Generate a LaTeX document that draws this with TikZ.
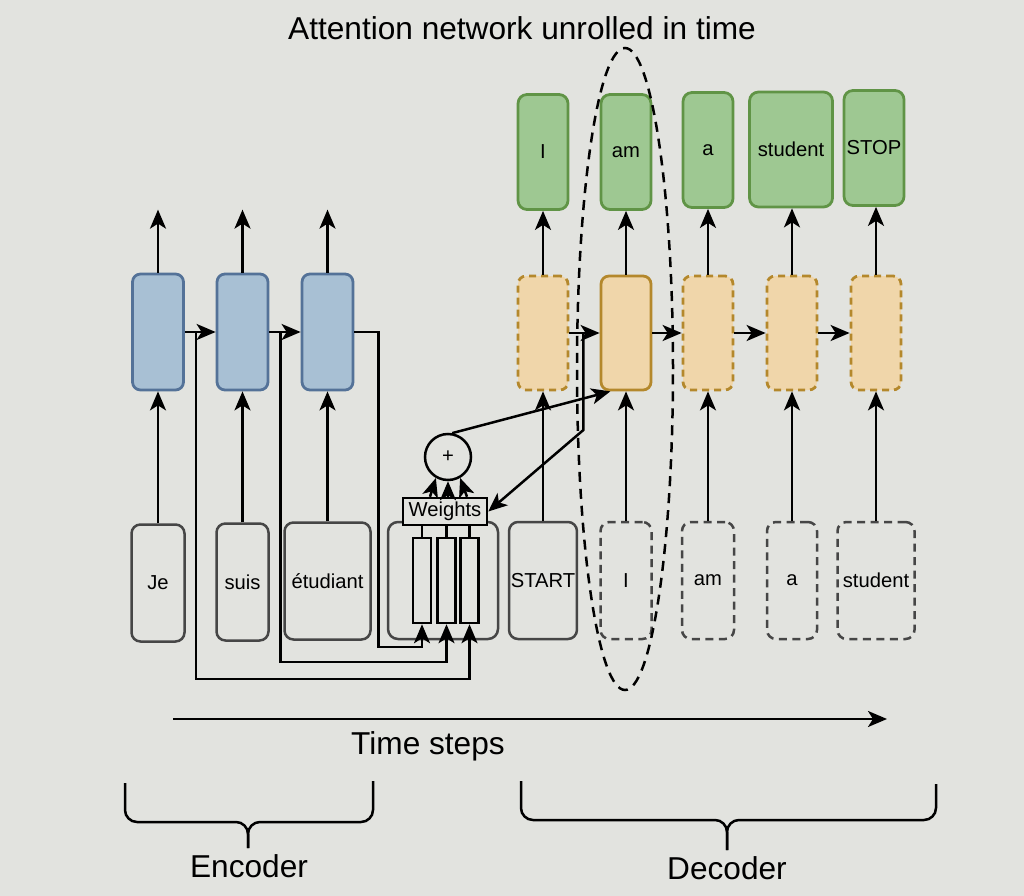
\documentclass[tikz,border=0pt]{standalone}
\usepackage{fontspec}
\setmainfont{Liberation Sans}
\usetikzlibrary{arrows.meta,calc}
\definecolor{bgray}{RGB}{226,227,223}
\definecolor{encfill}{RGB}{168,192,212}
\definecolor{encline}{RGB}{84,114,152}
\definecolor{decfill}{RGB}{240,214,170}
\definecolor{decline}{RGB}{180,136,44}
\definecolor{outfill}{RGB}{158,200,146}
\definecolor{outdraw}{RGB}{96,148,70}
\definecolor{inline}{RGB}{70,70,70}
\begin{document}
\begin{tikzpicture}[x=0.2mm,y=-0.2mm]
	\tikzstyle{arr}=[-{Stealth[length=3.8mm,width=3.2mm,inset=1mm]},line width=0.5mm]
	\tikzstyle{lbl}=[font=\fontsize{11.5}{13}\selectfont,inner sep=1pt]
	\tikzstyle{big}=[font=\fontsize{18}{21}\selectfont]
	\tikzstyle{encbox}=[draw=encline,fill=encfill,line width=0.55mm,rounded corners=1.6mm,minimum width=10.2mm,minimum height=23.2mm]
	\tikzstyle{decbox}=[draw=decline,fill=decfill,line width=0.55mm,rounded corners=1.6mm,minimum width=10mm,minimum height=22.8mm]
	\tikzstyle{decdash}=[decbox,dash pattern=on 1.4mm off 1mm]
	\tikzstyle{outbox}=[lbl,draw=outdraw,fill=outfill,line width=0.55mm,rounded corners=1.8mm,minimum width=10mm,minimum height=23mm]
	\tikzstyle{inbox}=[lbl,draw=inline,line width=0.5mm,rounded corners=1.8mm,minimum width=10.4mm,minimum height=23.4mm]
	\tikzstyle{indash}=[inbox,dash pattern=on 1.6mm off 1.1mm]
	\tikzstyle{wrect}=[draw,line width=0.5mm,minimum width=3.6mm,minimum height=17mm]
	\fill[bgray] (0,0) rectangle (1024,896);
	\useasboundingbox (0,0) rectangle (1024,896);
	\node[big] (title) at (522,28) {Attention network unrolled in time};
	\node[encbox] (e1) at (158,332) {};
	\node[encbox] (e2) at (242.5,332) {};
	\node[encbox] (e3) at (327.5,332) {};
	\node[decdash] (d1) at (543,333) {};
	\node[decbox] (d2) at (626,333) {};
	\node[decdash] (d3) at (708,333) {};
	\node[decdash] (d4) at (792,333) {};
	\node[decdash] (d5) at (876,333) {};
	\node[outbox] (o1) at (543,152) {I};
	\node[outbox] (o2) at (626,152) {am};
	\node[outbox] (o3) at (708,150) {a};
	\node[outbox,minimum width=16.6mm] (o4) at (791,149.5) {student};
	\node[outbox,minimum width=12mm] (o5) at (874,148) {STOP};
	\node[inbox,minimum width=10.6mm] (i1) at (158,583) {Je};
	\node[inbox] (i2) at (242.5,582) {suis};
	\node[inbox,minimum width=17.2mm] (i3) at (327.5,581) {étudiant};
	\node[inbox,minimum width=13.2mm] (i4) at (543,580.5) {START};
	\node[indash,minimum width=10.2mm] (i5) at (626,580.5) {I};
	\node[indash] (i6) at (708,580.5) {am};
	\node[indash,minimum width=10mm] (i7) at (792,580.5) {a};
	\node[indash,minimum width=15.4mm] (i8) at (876,580.5) {student};
	\node[draw=inline,line width=0.5mm,rounded corners=2mm,minimum width=22mm,minimum height=23.4mm] (att) at (443,580.5) {};
	\node[wrect] (r1) at (422,580.5) {};
	\node[wrect] (r2) at (446.5,580.5) {};
	\node[wrect] (r3) at (469.5,580.5) {};
	\node[lbl,draw,fill=bgray,line width=0.5mm,minimum width=16.8mm,minimum height=5.4mm] (w) at (445,511.5) {Weights};
	\node[lbl,circle,draw,fill=bgray,line width=0.5mm,minimum size=9.2mm] (c) at (448,457) {+};
	\draw[line width=0.5mm] (r1.north) -- (r1.north |- w.south);
	\draw[line width=0.5mm] (r2.north) -- (r2.north |- w.south);
	\draw[line width=0.5mm] (r3.north) -- (r3.north |- w.south);
	\draw[arr] ($(w.north)+(-15,0)$) -- (c.240);
	\draw[arr] ($(w.north)+(3,0)$) -- (c.south);
	\draw[arr] ($(w.north)+(22,0)$) -- (c.300);
	\draw[arr] (c.80) -- (d2.255);
	\draw[arr] (e1.north) -- ++(0,-63);
	\draw[arr] (e2.north) -- ++(0,-63);
	\draw[arr] (e3.north) -- ++(0,-63);
	\draw[arr] (e1.east) -- (e2.west);
	\draw[arr] (e2.east) -- (e3.west);
	\coordinate (b1) at ($(e1.east)+(11,0)$);
	\coordinate (b2) at ($(e2.east)+(11,0)$);
	\draw[arr] (b1) -- ++(0,347) -| (r3.south);
	\draw[arr] (b2) -- ++(0,330) -| (r2.south);
	\draw[arr] (e3.east) -- ++(24,0) -- ++(0,315) -| (r1.south);
	\draw[arr] (i1.north) -- (e1.south);
	\draw[arr] (i2.north) -- (e2.south);
	\draw[arr] (i3.north) -- (e3.south);
	\draw[arr] (i4.north) -- (d1.south);
	\draw[arr] (i5.north) -- (d2.south);
	\draw[arr] (i6.north) -- (d3.south);
	\draw[arr] (i7.north) -- (d4.south);
	\draw[arr] (i8.north) -- (d5.south);
	\draw[arr] (d1.north) -- (d1.north |- o1.south);
	\draw[arr] (d2.north) -- (d2.north |- o2.south);
	\draw[arr] (d3.north) -- (d3.north |- o3.south);
	\draw[arr] (d4.north) -- (d4.north |- o4.south);
	\draw[arr] (d5.north) -- (d5.north |- o5.south);
	\draw[arr] (d1.east) -- (d2.west);
	\draw[arr] (d2.east) -- (d3.west);
	\draw[arr] (d3.east) -- (d4.west);
	\draw[arr] (d4.east) -- (d5.west);
	\coordinate (q) at ($(d1.east)+(14,0)$);
	\draw[arr] (q) -- ++(0,97) -- (w.east);
	\draw[line width=0.5mm,dash pattern=on 2mm off 1.4mm] (625,369) ellipse [x radius=9.6mm,y radius=64.2mm];
	\coordinate (t0) at (173,719);
	\coordinate (t1) at (887,719);
	\draw[arr] (t0) -- (t1);
	\node[big] (ts) at (428,746) {Time steps};
	\draw[line width=0.5mm,rounded corners=2.4mm] (125,783) -- (125,822) -- (248,822) -- (248,848);
	\draw[line width=0.5mm,rounded corners=2.4mm] (373,781) -- (373,822) -- (248,822) -- (248,848);
	\draw[line width=0.5mm,rounded corners=2.4mm] (521,781) -- (521,820) -- (727,820) -- (727,850);
	\draw[line width=0.5mm,rounded corners=2.4mm] (936,784) -- (936,820) -- (727,820) -- (727,850);
	\node[big] (enc) at (249,866) {Encoder};
	\node[big] (dcd) at (727,868) {Decoder};
\end{tikzpicture}
\end{document}
